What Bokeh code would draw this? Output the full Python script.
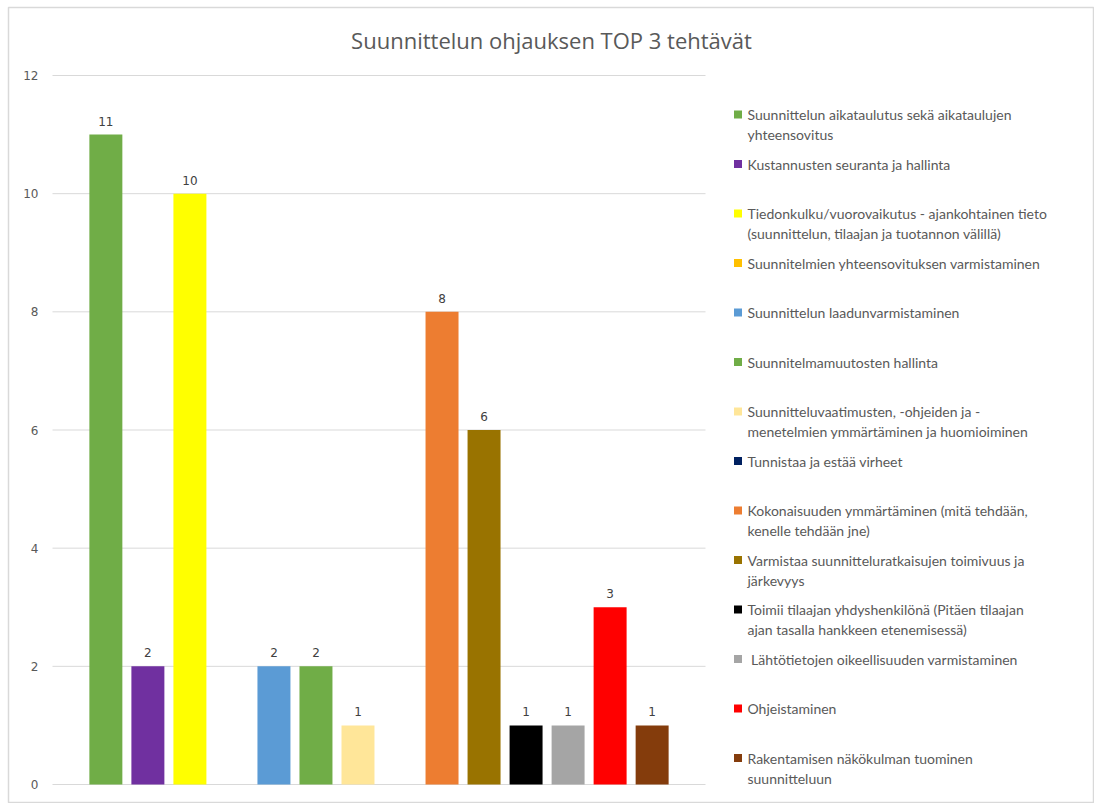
from bokeh.plotting import figure
from bokeh.models import Range1d, ColumnDataSource
from bokeh.core.properties import value
from bokeh.embed import file_html
from bokeh.resources import INLINE

# ---------------- data ----------------
title_text = "Suunnittelun ohjauksen TOP 3 tehtävät"
labels = [
    "Suunnittelun aikataulutus sekä aikataulujen\nyhteensovitus",
    "Kustannusten seuranta ja hallinta",
    "Tiedonkulku/vuorovaikutus - ajankohtainen tieto\n(suunnittelun, tilaajan ja tuotannon välillä)",
    "Suunnitelmien yhteensovituksen varmistaminen",
    "Suunnittelun laadunvarmistaminen",
    "Suunnitelmamuutosten hallinta",
    "Suunnitteluvaatimusten, -ohjeiden ja -\nmenetelmien ymmärtäminen ja huomioiminen",
    "Tunnistaa ja estää virheet",
    "Kokonaisuuden ymmärtäminen  (mitä tehdään,\nkenelle tehdään jne)",
    "Varmistaa suunnitteluratkaisujen toimivuus ja\njärkevyys",
    "Toimii tilaajan yhdyshenkilönä (Pitäen tilaajan\najan tasalla hankkeen etenemisessä)",
    "\u00a0Lähtötietojen oikeellisuuden varmistaminen",
    "Ohjeistaminen",
    "Rakentamisen näkökulman tuominen\nsuunnitteluun",
]
values = [11, 2, 10, 0, 2, 2, 1, 0, 8, 6, 1, 1, 3, 1]
colors = ["#70AD47", "#7030A0", "#FFFF00", "#FFC000", "#5B9BD5", "#70AD47", "#FFE699",
          "#002060", "#ED7D31", "#997300", "#000000", "#A5A5A5", "#FF0000", "#843C0C"]
y_ticks = [0, 2, 4, 6, 8, 10, 12]
y_tick_labels = [str(t) for t in y_ticks]

# ---------------- layout constants (pixels) ----------------
W, H = 1094, 803
FRAME_L, FRAME_T = 8, 7
PLOT_L, PLOT_R = 52, 705
PLOT_T, PLOT_B = 75, 784
SLOT_LO, SLOT_HI = -1.27, len(values) - 1 + 1.27
Y_MAX = 12
LEG_SQ_PX, LEG_TXT_PX = 737.5, 747
LEG_Y0, LEG_PITCH = 114, 49.5
TITLE_PX_Y = 39

pps = (PLOT_R - PLOT_L) / (SLOT_HI - SLOT_LO)
ppu = (PLOT_B - PLOT_T) / Y_MAX
x_range = Range1d(SLOT_LO - (PLOT_L - FRAME_L) / pps, SLOT_HI + (W - PLOT_R) / pps)
y_range = Range1d(-(H - PLOT_B) / ppu, Y_MAX + (PLOT_T - FRAME_T) / ppu)

p = figure(width=W, height=H, x_range=x_range, y_range=y_range,
           output_backend="svg", toolbar_location=None,
           x_axis_location=None, y_axis_location=None,
           min_border_left=FRAME_L, min_border_top=FRAME_T,
           min_border_right=0, min_border_bottom=0)
p.grid.visible = False
p.outline_line_color = "#D9D9D9"
p.outline_line_width = 1.5
p.background_fill_color = "white"
p.border_fill_color = "white"

leg_unit = LEG_TXT_PX - LEG_SQ_PX
p.extra_x_ranges = {"legx": Range1d((FRAME_L - LEG_SQ_PX) / leg_unit, (W - LEG_SQ_PX) / leg_unit)}
p.extra_y_ranges = {"legy": Range1d((H - LEG_Y0) / LEG_PITCH, (FRAME_T - LEG_Y0) / LEG_PITCH)}

# gridlines
p.segment(x0=[SLOT_LO] * len(y_ticks), x1=[SLOT_HI] * len(y_ticks), y0=y_ticks, y1=y_ticks,
          line_color="#D9D9D9", line_width=1)
# y tick labels
p.text(x=[SLOT_LO] * len(y_ticks), y=y_ticks, text=y_tick_labels, x_offset=-14,
       text_align="right", text_baseline="middle", text_font=value("DejaVu Sans"),
       text_font_size="12px", text_color="#595959")

# bars
idx = list(range(len(values)))
src = ColumnDataSource(dict(x=idx, top=values, color=colors))
p.vbar(x="x", top="top", bottom=0, width=0.785, fill_color="color", line_color=None, source=src)

# data labels
lx = [i for i, v in zip(idx, values) if v > 0]
lv = [v for v in values if v > 0]
p.text(x=lx, y=lv, text=[str(v) for v in lv], y_offset=-9, text_align="center",
       text_baseline="bottom", text_font=value("DejaVu Sans"), text_font_size="12px",
       text_color="#404040")

# title
p.text(x=[(x_range.start + x_range.end) / 2], y=[Y_MAX + (PLOT_T - TITLE_PX_Y) / ppu],
       text=[title_text], text_align="center", text_baseline="middle",
       text_font=value("Open Sans"), text_font_size="22px", text_color="#595959")

# legend (drawn from data)
line1 = [l.split("\n")[0] for l in labels]
line2 = [l.split("\n")[1] if "\n" in l else "" for l in labels]
p.scatter(x=[0] * len(labels), y=idx, marker="square", size=8, fill_color=colors, line_color=None,
          x_range_name="legx", y_range_name="legy")
p.text(x=[1] * len(labels), y=idx, text=line1, text_align="left", text_baseline="middle",
       text_font=value("Lato"), text_font_size="14px", text_color="#595959",
       x_range_name="legx", y_range_name="legy")
p.text(x=[1] * len(labels), y=idx, text=line2, y_offset=20, text_align="left", text_baseline="middle",
       text_font=value("Lato"), text_font_size="14px", text_color="#595959",
       x_range_name="legx", y_range_name="legy")

open("out.html", "w").write(file_html(p, INLINE))
